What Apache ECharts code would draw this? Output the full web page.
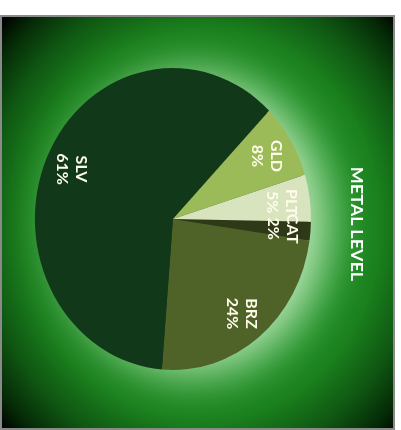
<!DOCTYPE html>
<html>
<head>
<meta charset="utf-8">
<script src="https://cdn.jsdelivr.net/npm/echarts@6/dist/echarts.min.js"></script>
<style>
  html, body { margin: 0; padding: 0; background: #ffffff; }
  #frame {
    position: absolute; left: 0; top: 15px; width: 395px; height: 415px;
    border: 2px solid #8a8a8a; box-sizing: border-box; overflow: hidden;
  }
  #chart {
    position: absolute; left: 0; top: 0; width: 428px; height: 411px;
    transform: scaleX(0.914); transform-origin: 0 0;
  }
</style>
</head>
<body>
<div id="frame"><div id="chart"></div></div>
<script>
// Data
const title = 'METAL LEVEL';
const categories = ['CAT', 'BRZ', 'SLV', 'GLD', 'PLT'];
const values = [2, 24, 61, 8, 5];
const sliceColors = ['#2d3917', '#4f6228', '#12381a', '#9bbb59', '#d7e4bd'];

const chart = echarts.init(document.getElementById('chart'), null, { renderer: 'svg' });

const seriesData = categories.map((c, i) => ({
  name: c,
  value: values[i],
  itemStyle: { color: sliceColors[i] }
}));
const total = values.reduce((a, b) => a + b, 0);

const center = [187, 202];

chart.setOption({
  animation: false,
  backgroundColor: {
    type: 'radial', x: 219, y: 208, r: 300, global: true,
    colorStops: [
      { offset: 0, color: '#2cab32' },
      { offset: 0.5, color: '#1f9125' },
      { offset: 0.65, color: '#1a801d' },
      { offset: 0.8, color: '#0f5612' },
      { offset: 0.92, color: '#052a06' },
      { offset: 1, color: '#000000' }
    ]
  },
  graphic: [{
    type: 'text',
    x: 389, y: 207,
    rotation: -Math.PI / 2,
    style: {
      text: title,
      fill: '#ffffff',
      font: 'bold 18px Lato',
      align: 'center',
      verticalAlign: 'middle'
    }
  }],
  series: [
    {
      // soft light glow behind the pie
      type: 'pie',
      center: center,
      radius: 148,
      silent: true,
      z: 1,
      label: { show: false },
      labelLine: { show: false },
      itemStyle: {
        color: '#12381a',
        shadowColor: 'rgba(225,250,220,0.8)',
        shadowBlur: 48,
        shadowOffsetX: 22,
        shadowOffsetY: 5
      },
      data: [{ name: 'total', value: total }]
    },
    {
      type: 'pie',
      center: center,
      radius: 151,
      startAngle: -1,
      clockwise: true,
      silent: true,
      z: 2,
      label: { show: false },
      labelLine: { show: false },
      itemStyle: { borderWidth: 0 },
      data: seriesData
    },
    {
      type: 'pie',
      center: center,
      radius: 236,
      startAngle: -1,
      clockwise: true,
      silent: true,
      z: 3,
      avoidLabelOverlap: false,
      minShowLabelAngle: 0,
      labelLayout: { hideOverlap: false },
      itemStyle: { color: 'rgba(0,0,0,0)', borderWidth: 0 },
      labelLine: { show: false },
      label: {
        show: true,
        position: 'inside',
        rotate: -90,
        formatter: '{b}\n{d}%',
        color: '#fffbea',
        fontFamily: 'Lato',
        fontWeight: 'bold',
        fontSize: 16,
        lineHeight: 21
      },
      data: categories.map((c, i) => ({ name: c, value: values[i] }))
    }
  ]
});
</script>
</body>
</html>
